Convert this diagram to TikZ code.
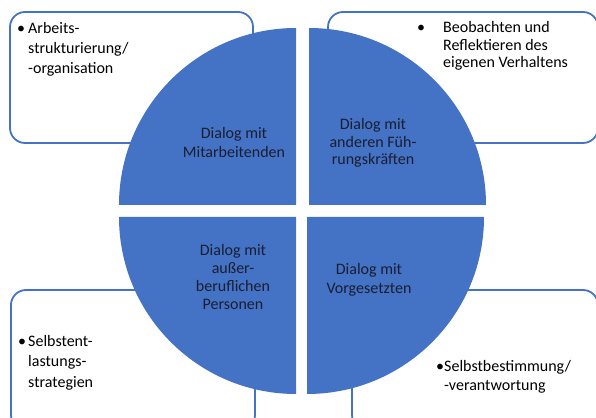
\documentclass[tikz,border=0pt]{standalone}
\usepackage{fontspec}
\setmainfont{Carlito}
\definecolor{obl}{RGB}{68,114,196}
\definecolor{qtext}{RGB}{25,30,50}
\tikzset{
  infobox/.style={draw=obl, line width=1.8pt, fill=white, rounded corners=15pt},
  quad/.style={fill=obl},
  qlabel/.style={anchor=base, inner sep=0pt, text=qtext},
  blabel/.style={anchor=base west, inner sep=0pt, text=black},
  bul/.style={anchor=base, inner sep=0pt, text=black},
}
\newcommand{\qlines}[2]{{\fontsize{16}{#1}\selectfont\begin{tabular}[t]{@{}c@{}}#2\end{tabular}}}
\newcommand{\blines}[2]{{\fontsize{16}{#1}\selectfont\begin{tabular}[t]{@{}l@{}}#2\end{tabular}}}
\begin{document}
\begin{tikzpicture}[x=1pt,y=1pt]
\useasboundingbox (0,0) rectangle (596,417);
\clip (0,0) rectangle (596,417);
% boxes
\draw[infobox] (10,405) rectangle (253,274);
\draw[infobox] (328,405) rectangle (598,274);
\draw[infobox] (11,127) rectangle (255,-13);
\draw[infobox] (352,127) rectangle (598,-13);
% quadrants
\fill[quad] (296,212) -- (119,212) arc[start angle=180,end angle=90,radius=177pt] -- cycle;
\fill[quad] (309,212) -- (309,389) arc[start angle=90,end angle=0,radius=177pt] -- cycle;
\fill[quad] (296,200) -- (119,200) arc[start angle=180,end angle=270,radius=177pt] -- cycle;
\fill[quad] (307,200) -- (484,200) arc[start angle=0,end angle=-90,radius=177pt] -- cycle;
% quadrant labels
\node[qlabel] (q1) at (234,278) {\qlines{18.5}{Dialog mit\\Mitarbeitenden}};
\node[qlabel] (q2) at (373,287) {\qlines{17.5}{Dialog mit\\anderen Füh-\\rungskräften}};
\node[qlabel] (q3) at (233,161) {\qlines{18}{Dialog mit\\außer-\\beruflichen\\Personen}};
\node[qlabel] (q4) at (369,142) {\qlines{19}{Dialog mit\\Vorgesetzten}};
% box texts
\node[bul] (b1) at (21,383) {\fontsize{16}{18}\selectfont •};
\node[blabel] (t1) at (28,383) {\blines{20}{Arbeits-\\strukturierung/\\-organisation}};
\node[bul] (b2) at (421,384) {\fontsize{16}{18}\selectfont •};
\node[blabel] (t2) at (443,384) {\blines{17.5}{Beobachten und\\Reflektieren des\\eigenen Verhaltens}};
\node[bul] (b3) at (22,70) {\fontsize{16}{18}\selectfont •};
\node[blabel] (t3) at (28,70) {\blines{20}{Selbstent-\\lastungs-\\strategien}};
\node[bul] (b4) at (440,45) {\fontsize{16}{18}\selectfont •};
\node[blabel] (t4) at (444,45) {\blines{18}{Selbstbestimmung/\\-verantwortung}};
\end{tikzpicture}
\end{document}
